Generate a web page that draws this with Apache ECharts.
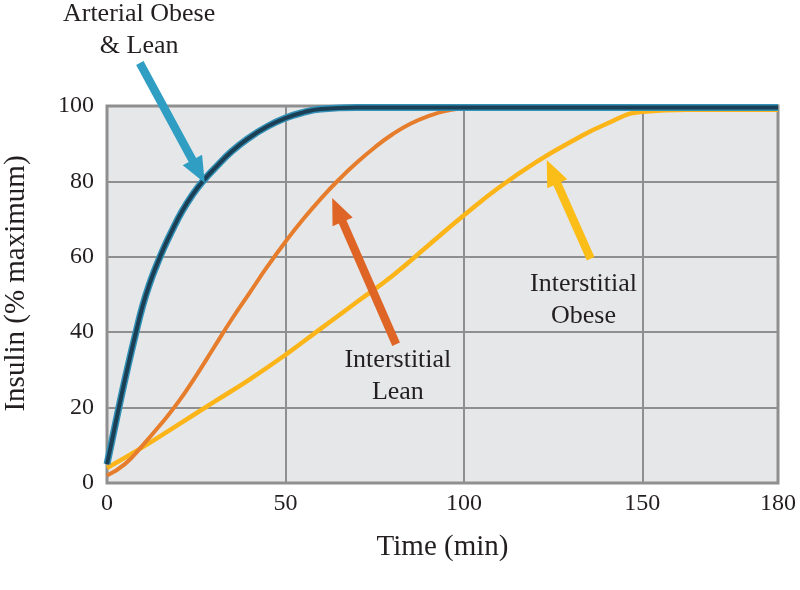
<!DOCTYPE html>
<html>
<head>
<meta charset="utf-8">
<script src="https://cdn.jsdelivr.net/npm/echarts@6/dist/echarts.min.js"></script>
<style>html,body{margin:0;padding:0;background:#fff}#c{width:800px;height:590px}</style>
</head>
<body>
<div id="c"></div>
<script>
// ---- data ----
const xTickLabels = [0, 50, 100, 150, 180];
const yTickLabels = [0, 20, 40, 60, 80, 100];

const tArterial = [0, 2, 4, 6, 8, 10, 12, 14, 16, 18, 21, 24, 27, 30, 35, 40, 45, 50, 55, 60, 70, 180];
const vArterial = [5, 14, 23, 31.5, 39.5, 47, 53, 58, 62.5, 66.5, 72, 76.5, 80.2, 83.3, 88, 91.7, 94.6, 96.8, 98.3, 99.2, 99.6, 99.6];

const tLean = [0, 5, 10, 15, 20, 25, 30, 35, 40, 45, 50, 55, 60, 65, 70, 75, 80, 85, 90, 95, 100, 180];
const vLean = [2, 5, 10, 15.5, 21.5, 28.5, 36, 43.5, 50.5, 57.5, 64, 70, 75.5, 80.5, 85, 89, 92.5, 95.3, 97.3, 98.7, 99.3, 99.3];

const tObese = [0, 10, 20, 30, 40, 50, 60, 70, 80, 90, 100, 110, 120, 130, 140, 150, 160, 180];
const vObese = [4, 9.5, 15.5, 21.5, 27.5, 34, 41, 48, 55, 63, 71, 78.5, 85, 90.5, 95.3, 98.5, 99, 99];

// annotation texts and arrows (data coordinates: time, % max)
const annTexts = [
  {text: 'Arterial Obese\n& Lean', t: 9, v: 120.1},
  {text: 'Interstitial\nLean', t: 81.5, v: 28.4},
  {text: 'Interstitial\nObese', t: 133.5, v: 48.6}
];
const annArrows = [
  {from: [9.2, 111.4], to: [27.4, 79.6], color: '#2f9ec2'},
  {from: [81, 36.8], to: [63.1, 75.6], color: '#df6526'},
  {from: [135.5, 59.5], to: [123.2, 85.7], color: '#fbbd18'}
];

// the last axis segment (150-180) is drawn stretched as in the original figure
const AXIS_END = 188;
function axPos(t) { return t <= 150 ? t : 150 + (t - 150) * (AXIS_END - 150) / 30; }
function axLabel(p) { return p <= 150 ? p : Math.round(150 + (p - 150) * 30 / (AXIS_END - 150)); }
function pairs(ts, vs) { return ts.map((t, i) => [axPos(t), vs[i]]); }

const chart = echarts.init(document.getElementById('c'));
const font = '"Liberation Serif", "DejaVu Serif", serif';
const gridC = '#8f8f8f';

chart.setOption({
  animation: false,
  grid: {left: 107, right: 22, top: 106, bottom: 107, show: true, containLabel: false,
         outerBoundsMode: 'none',
         backgroundColor: '#e6e7e9', borderColor: gridC, borderWidth: 3},
  xAxis: {
    type: 'value', min: 0, max: AXIS_END, interval: 50,
    name: 'Time (min)', nameLocation: 'middle', nameGap: 50,
    nameTextStyle: {fontFamily: font, fontSize: 29, color: '#231f20'},
    axisLine: {show: false}, axisTick: {show: false},
    axisLabel: {fontFamily: font, fontSize: 24, color: '#231f20', margin: 9, showMaxLabel: true,
      formatter: v => {
        const l = axLabel(v);
        return xTickLabels.indexOf(l) >= 0 ? String(l) : '';
      }},
    splitLine: {show: true, lineStyle: {color: gridC, width: 2}}
  },
  yAxis: {
    type: 'value', min: 0, max: 100, interval: 20,
    name: 'Insulin (% maximum)', nameLocation: 'middle', nameGap: 76,
    nameTextStyle: {fontFamily: font, fontSize: 29, color: '#231f20', padding: [0, 0, 0, 22]},
    axisLine: {show: false}, axisTick: {show: false},
    axisLabel: {fontFamily: font, fontSize: 24, color: '#231f20', margin: 13,
      formatter: v => yTickLabels.indexOf(v) >= 0 ? String(v) : ''},
    splitLine: {show: true, lineStyle: {color: gridC, width: 2}}
  },
  series: [
    {name: 'Interstitial Obese', type: 'line', data: pairs(tObese, vObese), smooth: 0.5,
     symbol: 'none', lineStyle: {color: '#fbb519', width: 4.5}, z: 3},
    {name: 'Interstitial Lean', type: 'line', data: pairs(tLean, vLean), smooth: 0.5,
     symbol: 'none', lineStyle: {color: '#e67d2c', width: 4}, z: 4},
    {name: 'Arterial Lean', type: 'line', data: pairs(tArterial, vArterial), smooth: 0.5,
     symbol: 'none', lineStyle: {color: '#3391b6', width: 7}, z: 5},
    {name: 'Arterial Obese', type: 'line', data: pairs(tArterial, vArterial), smooth: 0.5,
     symbol: 'none', lineStyle: {color: '#1b3f55', width: 4}, z: 6}
  ]
});

function px(t, v) { return chart.convertToPixel({gridIndex: 0}, [axPos(t), v]); }

const graphics = [];
annArrows.forEach(a => {
  const p0 = px(a.from[0], a.from[1]);
  const p1 = px(a.to[0], a.to[1]);
  const dx = p1[0] - p0[0], dy = p1[1] - p0[1];
  const L = Math.sqrt(dx * dx + dy * dy);
  const ux = dx / L, uy = dy / L, nx = -uy, ny = ux;
  const sw = 4.2, hw = 11, hl = 26;
  const bx = p1[0] - ux * hl, by = p1[1] - uy * hl;
  const pts = [
    [p0[0] + nx * sw, p0[1] + ny * sw],
    [bx + nx * sw, by + ny * sw],
    [bx + nx * hw, by + ny * hw],
    [p1[0], p1[1]],
    [bx - nx * hw, by - ny * hw],
    [bx - nx * sw, by - ny * sw],
    [p0[0] - nx * sw, p0[1] - ny * sw]
  ];
  graphics.push({type: 'polygon', shape: {points: pts}, style: {fill: a.color}, z: 100});
});
annTexts.forEach(a => {
  const p = px(a.t, a.v);
  graphics.push({type: 'text', x: p[0], y: p[1], z: 101,
    style: {text: a.text, font: '26px ' + font, fill: '#231f20', align: 'center',
            verticalAlign: 'middle', lineHeight: 32}});
});
chart.setOption({graphic: graphics});
</script>
</body>
</html>
